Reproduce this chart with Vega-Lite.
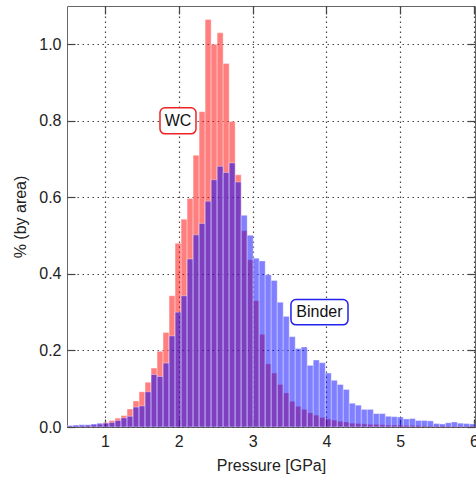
{
  "$schema": "https://vega.github.io/schema/vega-lite/v6.json",
  "width": 408,
  "height": 421,
  "autosize": {"type": "none"},
  "padding": {"left": 67, "top": 6, "right": 1, "bottom": 55},
  "config": {
    "font": "Liberation Sans",
    "view": {"stroke": "#666666", "strokeWidth": 1},
    "axis": {
      "labelFont": "Liberation Sans",
      "titleFont": "Liberation Sans",
      "labelFontSize": 16,
      "titleFontSize": 16,
      "titleFontWeight": "normal",
      "labelColor": "#222222",
      "titleColor": "#222222",
      "tickColor": "#444444",
      "tickWidth": 1.2,
      "domain": false,
      "gridColor": "#444444",
      "gridDash": [1.5, 3.5],
      "gridWidth": 1.2
    }
  },
  "datasets": {
    "hist": [
      {"p0": 0.4846, "p1": 0.566, "wc": 0.002, "binder": 0.004},
      {"p0": 0.566, "p1": 0.6474, "wc": 0.003, "binder": 0.005},
      {"p0": 0.6474, "p1": 0.7288, "wc": 0.003, "binder": 0.006},
      {"p0": 0.7288, "p1": 0.8102, "wc": 0.004, "binder": 0.006},
      {"p0": 0.8102, "p1": 0.8916, "wc": 0.005, "binder": 0.008},
      {"p0": 0.8916, "p1": 0.973, "wc": 0.007, "binder": 0.010},
      {"p0": 0.973, "p1": 1.0544, "wc": 0.012, "binder": 0.010},
      {"p0": 1.0544, "p1": 1.1358, "wc": 0.017, "binder": 0.012},
      {"p0": 1.1358, "p1": 1.2172, "wc": 0.023, "binder": 0.017},
      {"p0": 1.2172, "p1": 1.2986, "wc": 0.030, "binder": 0.024},
      {"p0": 1.2986, "p1": 1.38, "wc": 0.047, "binder": 0.028},
      {"p0": 1.38, "p1": 1.4614, "wc": 0.068, "binder": 0.052},
      {"p0": 1.4614, "p1": 1.5428, "wc": 0.092, "binder": 0.055},
      {"p0": 1.5428, "p1": 1.6242, "wc": 0.117, "binder": 0.092},
      {"p0": 1.6242, "p1": 1.7056, "wc": 0.154, "binder": 0.137},
      {"p0": 1.7056, "p1": 1.787, "wc": 0.198, "binder": 0.132},
      {"p0": 1.787, "p1": 1.8684, "wc": 0.247, "binder": 0.167},
      {"p0": 1.8684, "p1": 1.9498, "wc": 0.343, "binder": 0.238},
      {"p0": 1.9498, "p1": 2.0312, "wc": 0.48, "binder": 0.30},
      {"p0": 2.0312, "p1": 2.1126, "wc": 0.543, "binder": 0.343},
      {"p0": 2.1126, "p1": 2.194, "wc": 0.597, "binder": 0.439},
      {"p0": 2.194, "p1": 2.2754, "wc": 0.71, "binder": 0.502},
      {"p0": 2.2754, "p1": 2.3568, "wc": 0.824, "binder": 0.532},
      {"p0": 2.3568, "p1": 2.4382, "wc": 1.065, "binder": 0.59},
      {"p0": 2.4382, "p1": 2.5196, "wc": 1.0, "binder": 0.646},
      {"p0": 2.5196, "p1": 2.601, "wc": 1.03, "binder": 0.681},
      {"p0": 2.601, "p1": 2.6824, "wc": 0.95, "binder": 0.665},
      {"p0": 2.6824, "p1": 2.7638, "wc": 0.798, "binder": 0.69},
      {"p0": 2.7638, "p1": 2.8452, "wc": 0.659, "binder": 0.64},
      {"p0": 2.8452, "p1": 2.9266, "wc": 0.513, "binder": 0.553},
      {"p0": 2.9266, "p1": 3.008, "wc": 0.437, "binder": 0.501},
      {"p0": 3.008, "p1": 3.0894, "wc": 0.33, "binder": 0.441},
      {"p0": 3.0894, "p1": 3.1708, "wc": 0.242, "binder": 0.434},
      {"p0": 3.1708, "p1": 3.2522, "wc": 0.165, "binder": 0.398},
      {"p0": 3.2522, "p1": 3.3336, "wc": 0.141, "binder": 0.383},
      {"p0": 3.3336, "p1": 3.415, "wc": 0.111, "binder": 0.326},
      {"p0": 3.415, "p1": 3.4964, "wc": 0.089, "binder": 0.289},
      {"p0": 3.4964, "p1": 3.5778, "wc": 0.067, "binder": 0.236},
      {"p0": 3.5778, "p1": 3.6592, "wc": 0.054, "binder": 0.205},
      {"p0": 3.6592, "p1": 3.7406, "wc": 0.046, "binder": 0.209},
      {"p0": 3.7406, "p1": 3.822, "wc": 0.037, "binder": 0.161},
      {"p0": 3.822, "p1": 3.9034, "wc": 0.031, "binder": 0.175},
      {"p0": 3.9034, "p1": 3.9848, "wc": 0.025, "binder": 0.168},
      {"p0": 3.9848, "p1": 4.0662, "wc": 0.021, "binder": 0.141},
      {"p0": 4.0662, "p1": 4.1476, "wc": 0.018, "binder": 0.122},
      {"p0": 4.1476, "p1": 4.229, "wc": 0.015, "binder": 0.111},
      {"p0": 4.229, "p1": 4.3104, "wc": 0.013, "binder": 0.098},
      {"p0": 4.3104, "p1": 4.3918, "wc": 0.010, "binder": 0.062},
      {"p0": 4.3918, "p1": 4.4732, "wc": 0.009, "binder": 0.057},
      {"p0": 4.4732, "p1": 4.5546, "wc": 0.008, "binder": 0.046},
      {"p0": 4.5546, "p1": 4.636, "wc": 0.007, "binder": 0.046},
      {"p0": 4.636, "p1": 4.7174, "wc": 0.007, "binder": 0.035},
      {"p0": 4.7174, "p1": 4.7988, "wc": 0.006, "binder": 0.035},
      {"p0": 4.7988, "p1": 4.8802, "wc": 0.005, "binder": 0.028},
      {"p0": 4.8802, "p1": 4.9616, "wc": 0.005, "binder": 0.027},
      {"p0": 4.9616, "p1": 5.043, "wc": 0.005, "binder": 0.026},
      {"p0": 5.043, "p1": 5.1244, "wc": 0.004, "binder": 0.021},
      {"p0": 5.1244, "p1": 5.2058, "wc": 0.004, "binder": 0.022},
      {"p0": 5.2058, "p1": 5.2872, "wc": 0.004, "binder": 0.017},
      {"p0": 5.2872, "p1": 5.3686, "wc": 0.003, "binder": 0.017},
      {"p0": 5.3686, "p1": 5.45, "wc": 0.003, "binder": 0.016},
      {"p0": 5.45, "p1": 5.5314, "wc": 0.003, "binder": 0.009},
      {"p0": 5.5314, "p1": 5.6128, "wc": 0.003, "binder": 0.008},
      {"p0": 5.6128, "p1": 5.6942, "wc": 0.002, "binder": 0.011},
      {"p0": 5.6942, "p1": 5.7756, "wc": 0.002, "binder": 0.013},
      {"p0": 5.7756, "p1": 5.857, "wc": 0.002, "binder": 0.010},
      {"p0": 5.857, "p1": 5.9384, "wc": 0.002, "binder": 0.009},
      {"p0": 5.9384, "p1": 6.0198, "wc": 0.002, "binder": 0.008}
    ],
    "labels": [
      {"series": "WC", "cx": 1.989, "cy": 0.80, "bx0": 1.745, "bx1": 2.233, "by0": 0.766, "by1": 0.834},
      {"series": "Binder", "cx": 3.906, "cy": 0.30, "bx0": 3.520, "bx1": 4.293, "by0": 0.267, "by1": 0.333}
    ]
  },
  "layer": [
    {
      "data": {"name": "hist"},
      "mark": {"type": "bar", "fill": "#ff0000", "fillOpacity": 0.5, "stroke": "#ffffff", "strokeWidth": 0.6, "strokeOpacity": 0.6, "clip": true},
      "encoding": {
        "x": {
          "field": "p0", "type": "quantitative",
          "scale": {"domain": [0.485, 6.014], "nice": false, "zero": false},
          "axis": {"orient": "bottom", "values": [1, 2, 3, 4, 5, 6], "grid": true, "tickSize": -8, "labelPadding": 14, "title": "Pressure [GPa]", "titlePadding": 8}
        },
        "x2": {"field": "p1"},
        "y": {
          "field": "wc", "type": "quantitative",
          "scale": {"domain": [0, 1.1], "nice": false},
          "axis": {"orient": "left", "values": [0, 0.2, 0.4, 0.6, 0.8, 1.0], "format": ".1f", "grid": true, "tickSize": -8, "labelPadding": 14, "title": "% (by area)", "titlePadding": 10}
        },
        "y2": {"datum": 0}
      }
    },
    {
      "data": {"name": "hist"},
      "mark": {"type": "bar", "fill": "#0000ff", "fillOpacity": 0.5, "stroke": "#ffffff", "strokeWidth": 0.6, "strokeOpacity": 0.6, "clip": true},
      "encoding": {
        "x": {"field": "p0", "type": "quantitative", "axis": null},
        "x2": {"field": "p1"},
        "y": {"field": "binder", "type": "quantitative", "axis": null},
        "y2": {"datum": 0}
      }
    },
    {
      "data": {"name": "labels"},
      "mark": {"type": "rect", "fill": "#ffffff", "strokeWidth": 1.5, "cornerRadius": 5},
      "encoding": {
        "x": {"field": "bx0", "type": "quantitative", "axis": {"orient": "top", "values": [1, 2, 3, 4, 5, 6], "labels": false, "title": null, "grid": false, "tickSize": -8, "zindex": 1}},
        "x2": {"field": "bx1"},
        "y": {"field": "by0", "type": "quantitative", "axis": {"orient": "right", "values": [0, 0.2, 0.4, 0.6, 0.8, 1.0], "labels": false, "title": null, "grid": false, "tickSize": -8, "zindex": 1}},
        "y2": {"field": "by1"},
        "stroke": {"field": "series", "type": "nominal", "scale": {"domain": ["WC", "Binder"], "range": ["#ee2222", "#2222ee"]}, "legend": null}
      }
    },
    {
      "data": {"name": "labels"},
      "mark": {"type": "text", "fontSize": 16, "color": "#111111", "font": "Liberation Sans"},
      "encoding": {
        "x": {"field": "cx", "type": "quantitative", "axis": null},
        "y": {"field": "cy", "type": "quantitative", "axis": null},
        "text": {"field": "series"}
      }
    }
  ],
  "resolve": {"axis": {"x": "independent", "y": "independent"}}
}
